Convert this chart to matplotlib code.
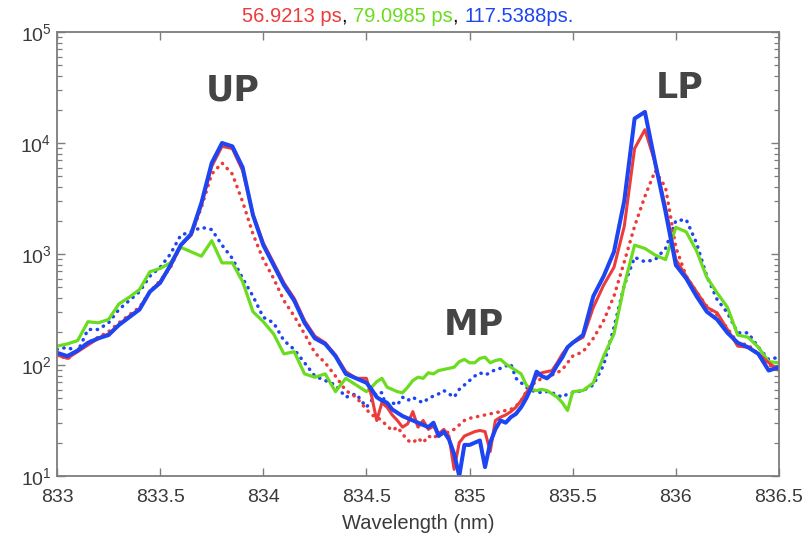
import numpy as np
import matplotlib
matplotlib.use("Agg")
import matplotlib.pyplot as plt
from matplotlib.ticker import LogLocator, LogFormatterMathtext, NullFormatter

plt.rcParams["font.family"] = ["Liberation Sans", "DejaVu Sans"]
plt.rcParams["mathtext.default"] = "regular"

# Wavelength sampling (nm): coarser in the wings, finer around the middle polariton
wavelength = np.round(np.concatenate([
    np.arange(833.0, 834.5 + 1e-6, 0.05),
    np.arange(834.525, 835.5 + 1e-6, 0.025),
    np.arange(835.55, 836.5 + 1e-6, 0.05),
]), 3)

# log10 of the PL intensity for each delay
log_i_57ps = [
    2.09, 2.06, 2.12, 2.18, 2.24, 2.28, 2.36, 2.44, 2.50, 2.66, 2.75, 2.89, 3.08, 3.17, 3.44, 3.79,
    3.97, 3.95, 3.75, 3.36, 3.10, 2.92, 2.74, 2.60, 2.40, 2.26, 2.20, 2.09, 1.94, 1.88, 1.88,
    1.72, 1.50, 1.66, 1.62, 1.55, 1.50, 1.44, 1.47, 1.58, 1.44, 1.50, 1.42, 1.45, 1.38, 1.42, 1.36,
    1.06, 1.30, 1.36, 1.38, 1.40, 1.41, 1.40, 1.22, 1.50, 1.53, 1.55, 1.58, 1.62, 1.68, 1.75, 1.82,
    1.90, 1.93, 1.94, 1.95, 2.02, 2.10, 2.16, 2.20,
    2.25, 2.52, 2.72, 2.88, 3.25, 3.95, 4.12, 3.82, 3.42, 2.95, 2.80, 2.66, 2.52, 2.47, 2.32, 2.17,
    2.16, 2.10, 2.02, 1.95,
]
log_i_57ps_b = [
    2.10, 2.05, 2.14, 2.20, 2.25, 2.30, 2.38, 2.45, 2.52, 2.66, 2.76, 2.88, 3.08, 3.17, 3.42, 3.72,
    3.82, 3.72, 3.47, 3.18, 2.95, 2.78, 2.58, 2.44, 2.28, 2.11, 2.02, 1.90, 1.77, 1.71, 1.60,
    1.55, 1.53, 1.50, 1.45, 1.41, 1.44, 1.38, 1.32, 1.30, 1.34, 1.30, 1.36, 1.34, 1.38, 1.37, 1.40,
    1.42, 1.46, 1.50, 1.52, 1.53, 1.54, 1.55, 1.56, 1.57, 1.58, 1.59, 1.60, 1.63, 1.68, 1.76, 1.82,
    1.85, 1.88, 1.89, 1.91, 1.93, 1.96, 2.02, 2.08,
    2.12, 2.24, 2.40, 2.62, 2.93, 3.25, 3.52, 3.75, 3.60, 3.06, 2.80, 2.66, 2.53, 2.45, 2.33, 2.20,
    2.18, 2.10, 2.00, 1.96,
]
log_i_79ps = [
    2.17, 2.19, 2.22, 2.39, 2.38, 2.41, 2.55, 2.61, 2.68, 2.84, 2.87, 2.92, 3.06, 3.02, 2.98, 3.12,
    2.92, 2.92, 2.75, 2.48, 2.39, 2.28, 2.10, 2.12, 1.92, 1.89, 1.92, 1.76, 1.88, 1.82, 1.76,
    1.80, 1.85, 1.88, 1.80, 1.78, 1.76, 1.75, 1.80, 1.86, 1.89, 1.88, 1.93, 1.92, 1.95, 1.96, 1.97,
    1.98, 2.03, 2.05, 2.02, 2.02, 2.06, 2.07, 2.02, 2.04, 2.05, 2.01, 1.98, 1.95, 1.92, 1.82, 1.78,
    1.77, 1.78, 1.77, 1.74, 1.71, 1.66, 1.59, 1.76,
    1.77, 1.84, 2.08, 2.28, 2.72, 3.08, 3.05, 2.99, 2.95, 3.24, 3.20, 3.03, 2.79, 2.65, 2.52, 2.27,
    2.25, 2.16, 2.03, 2.02,
]
log_i_118ps = [
    2.11, 2.08, 2.13, 2.20, 2.24, 2.27, 2.36, 2.43, 2.50, 2.66, 2.74, 2.90, 3.08, 3.18, 3.46, 3.82,
    4.00, 3.97, 3.78, 3.35, 3.08, 2.90, 2.72, 2.58, 2.38, 2.24, 2.19, 2.08, 1.92, 1.88, 1.84,
    1.78, 1.71, 1.68, 1.66, 1.60, 1.57, 1.54, 1.52, 1.50, 1.48, 1.46, 1.44, 1.48, 1.36, 1.40, 1.33,
    1.20, 1.00, 1.28, 1.28, 1.30, 1.32, 1.08, 1.30, 1.42, 1.50, 1.48, 1.53, 1.56, 1.62, 1.70, 1.80,
    1.94, 1.90, 1.88, 1.92, 2.00, 2.07, 2.16, 2.20,
    2.27, 2.62, 2.80, 3.02, 3.48, 4.22, 4.28, 3.82, 3.38, 2.90, 2.78, 2.62, 2.48, 2.41, 2.29, 2.20,
    2.16, 2.10, 1.95, 1.98,
]
log_i_118ps_b = [
    2.14, 2.16, 2.12, 2.32, 2.32, 2.38, 2.50, 2.58, 2.66, 2.80, 2.88, 3.00, 3.17, 3.20, 3.24, 3.22,
    3.08, 2.96, 2.78, 2.62, 2.43, 2.38, 2.22, 2.14, 2.02, 1.90, 1.86, 1.82, 1.71, 1.74, 1.62,
    1.68, 1.75, 1.75, 1.60, 1.66, 1.64, 1.71, 1.68, 1.71, 1.68, 1.66, 1.70, 1.72, 1.74, 1.77, 1.74,
    1.71, 1.78, 1.82, 1.86, 1.90, 1.93, 1.91, 1.93, 1.96, 1.97, 1.99, 2.01, 1.88, 1.84, 1.80, 1.77,
    1.76, 1.75, 1.76, 1.75, 1.73, 1.71, 1.74, 1.75,
    1.77, 1.82, 2.00, 2.34, 2.72, 2.97, 2.93, 2.95, 3.05, 3.30, 3.31, 3.10, 2.80, 2.59, 2.47, 2.29,
    2.29, 2.16, 2.05, 2.07,
]

x_ticks = [833, 833.5, 834, 834.5, 835, 835.5, 836, 836.5]
x_tick_labels = ["833", "833.5", "834", "834.5", "835", "835.5", "836", "836.5"]
title_parts = ["56.9213 ps", ", ", "79.0985 ps", ", ", "117.5388ps."]
peak_labels = ["UP", "MP", "LP"]
peak_label_pos = [(833.85, 10 ** 4.47), (835.02, 10 ** 2.36), (836.02, 10 ** 4.50)]

RED = "#ec3b3b"
GREEN = "#6bdc1e"
BLUE = "#1d45f2"

fig = plt.figure(figsize=(8.08, 5.36), dpi=100)
ax = fig.add_axes([57 / 808, 1 - 476 / 536, (779 - 57) / 808, (476 - 32) / 536])

dot = (0, (0.1, 1.9))
ax.plot(wavelength, 10 ** np.array(log_i_118ps_b), color=BLUE, lw=2.5,
        linestyle=dot, dash_capstyle="round")
ax.plot(wavelength, 10 ** np.array(log_i_57ps_b), color=RED, lw=2.5,
        linestyle=dot, dash_capstyle="round")
ax.plot(wavelength, 10 ** np.array(log_i_79ps), color=GREEN, lw=2.3, solid_joinstyle="round")
ax.plot(wavelength, 10 ** np.array(log_i_57ps), color=RED, lw=2.2, solid_joinstyle="round")
ax.plot(wavelength, 10 ** np.array(log_i_118ps), color=BLUE, lw=2.9, solid_joinstyle="round")

ax.set_yscale("log")
ax.set_xlim(833, 836.5)
ax.set_ylim(10, 1e5)
ax.set_xticks(x_ticks)
ax.set_xticklabels(x_tick_labels)
ax.yaxis.set_major_locator(LogLocator(base=10, numticks=10))
ax.yaxis.set_major_formatter(LogFormatterMathtext())
ax.yaxis.set_minor_locator(LogLocator(base=10, subs=np.arange(2, 10), numticks=20))
ax.yaxis.set_minor_formatter(NullFormatter())

frame_color = "#7d7d7d"
for s in ax.spines.values():
    s.set_color(frame_color)
    s.set_linewidth(1.3)
ax.tick_params(which="both", direction="in", top=True, right=True, color=frame_color,
               labelcolor="#3a3a3a", labelsize=14)
ax.tick_params(which="major", length=6, width=1.0)
ax.tick_params(which="minor", length=3.5, width=0.9)
ax.tick_params(axis="x", pad=9)
ax.tick_params(axis="y", pad=4)
ax.set_xlabel("Wavelength (nm)", fontsize=14.5, color="#3a3a3a", labelpad=6)

for label, (xp, yp) in zip(peak_labels, peak_label_pos):
    ax.text(xp, yp, label, ha="center", va="center", fontsize=25, fontweight="bold",
            color="#454545", family=["DejaVu Sans"])

# Multi-coloured title built from consecutive text pieces
colors = [RED, "black", GREEN, "black", BLUE]
texts = [fig.text(0, 1 - 16 / 536, t, color=c, fontsize=14.5, ha="left", va="center")
         for t, c in zip(title_parts, colors)]
fig.canvas.draw()
renderer = fig.canvas.get_renderer()
widths = [t.get_window_extent(renderer).width for t in texts]
x0 = 408 - sum(widths) / 2
for t, w in zip(texts, widths):
    t.set_x(x0 / 808)
    x0 += w

fig.savefig("out.png", dpi=100)
